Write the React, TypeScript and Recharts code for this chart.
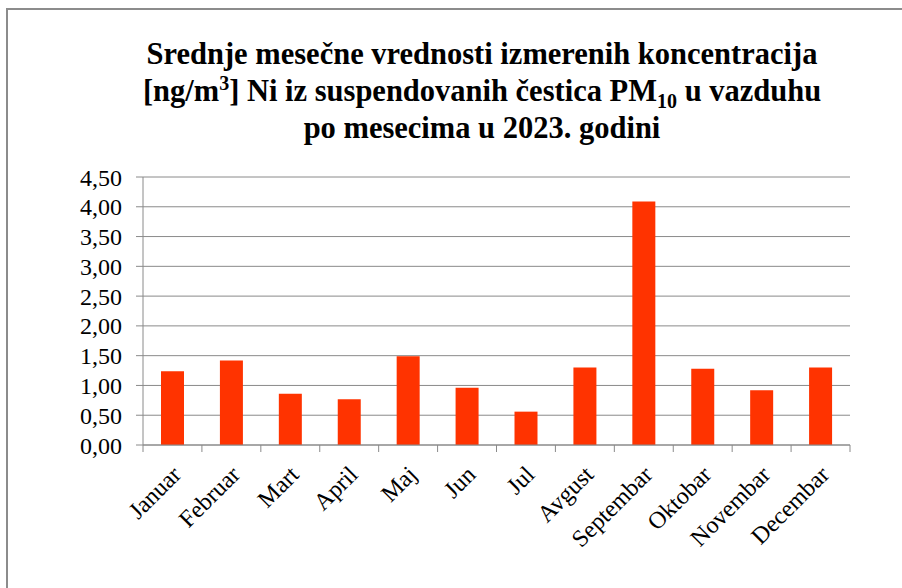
import React from "react";
import { BarChart, Bar, XAxis, YAxis, CartesianGrid } from "recharts";

const months = ["Januar", "Februar", "Mart", "April", "Maj", "Jun", "Jul", "Avgust", "Septembar", "Oktobar", "Novembar", "Decembar"];
const values = [1.24, 1.42, 0.86, 0.77, 1.49, 0.96, 0.56, 1.3, 4.09, 1.28, 0.92, 1.3];
const yTicks = [0, 0.5, 1, 1.5, 2, 2.5, 3, 3.5, 4, 4.5];

const data = months.map((m, i) => ({ month: m, value: values[i] }));

const W = 902;
const H = 588;
const PLOT_LEFT = 143;
const PLOT_RIGHT = 850;
const PLOT_TOP = 177;
const PLOT_BOTTOM = 445;
const Y_AXIS_W = 80;
const X_AXIS_H = 100;
const STEP = (PLOT_RIGHT - PLOT_LEFT) / months.length;
const GREY = "#8a8a8a";
const FONT = "'Liberation Serif', 'DejaVu Serif', serif";

const XTick = (props: any) => {
  const { x, y, payload, index } = props;
  const ax = x + 10;
  const ay = y + 23;
  return (
    <g>
      <line x1={x - STEP / 2} y1={PLOT_BOTTOM} x2={x - STEP / 2} y2={PLOT_BOTTOM + 7} stroke={GREY} strokeWidth={1} />
      {index === months.length - 1 && (
        <line x1={x + STEP / 2} y1={PLOT_BOTTOM} x2={x + STEP / 2} y2={PLOT_BOTTOM + 7} stroke={GREY} strokeWidth={1} />
      )}
      <text
        x={ax}
        y={ay}
        textAnchor="end"
        transform={`rotate(-45, ${ax}, ${ay})`}
        fontFamily={FONT}
        fontSize={24}
        fill="#000"
      >
        {payload.value}
      </text>
    </g>
  );
};

export default function App() {
  return (
    <div style={{ position: "absolute", left: 0, top: 0, width: W, height: H, background: "#fff", fontFamily: FONT }}>
      <div
        style={{
          position: "absolute",
          left: 6,
          top: 8,
          width: W,
          height: H,
          borderLeft: "2px solid #8c8c8c",
          borderTop: "2px solid #8c8c8c",
          boxSizing: "border-box",
        }}
      />
      <div
        style={{
          position: "absolute",
          left: 0,
          top: 36,
          width: 964,
          textAlign: "center",
          fontWeight: "bold",
          fontSize: 30.5,
          lineHeight: "37px",
          color: "#000",
          fontFamily: FONT,
        }}
      >
        <div>Srednje mesečne vrednosti izmerenih koncentracija</div>
        <div>
          [ng/m<sup style={{ fontSize: 20, lineHeight: 0 }}>3</sup>] Ni iz suspendovanih čestica PM
          <sub style={{ fontSize: 20, lineHeight: 0 }}>10</sub> u vazduhu
        </div>
        <div>po mesecima u 2023. godini</div>
      </div>
      <div style={{ position: "absolute", left: 0, top: 0 }}>
        <BarChart
          width={W}
          height={H}
          data={data}
          margin={{
            top: PLOT_TOP,
            left: PLOT_LEFT - Y_AXIS_W,
            right: W - PLOT_RIGHT,
            bottom: H - PLOT_BOTTOM - X_AXIS_H,
          }}
          barSize={23}
        >
          <CartesianGrid vertical={false} stroke={GREY} strokeWidth={1} />
          <XAxis
            dataKey="month"
            interval={0}
            height={X_AXIS_H}
            axisLine={{ stroke: GREY }}
            tickLine={false}
            tick={<XTick />}
          />
          <YAxis
            width={Y_AXIS_W}
            domain={[0, 4.5]}
            ticks={yTicks}
            interval={0}
            axisLine={{ stroke: GREY }}
            tickLine={{ stroke: GREY }}
            tickSize={7}
            tickMargin={14}
            tickFormatter={(v: number) => v.toFixed(2).replace(".", ",")}
            tick={{ fontFamily: FONT, fontSize: 24, fill: "#000" }}
          />
          <Bar dataKey="value" fill="#ff3300" isAnimationActive={false} />
        </BarChart>
      </div>
    </div>
  );
}
